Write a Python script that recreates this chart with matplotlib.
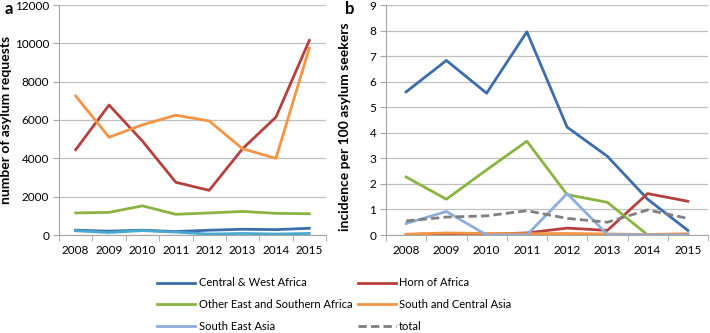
import matplotlib
matplotlib.use("Agg")
import matplotlib.pyplot as plt
from matplotlib.ticker import MultipleLocator, FixedLocator

plt.rcParams['font.family'] = ['Lato', 'DejaVu Sans']

years = ['2008', '2009', '2010', '2011', '2012', '2013', '2014', '2015']

# panel a: number of asylum requests
req_cw_africa = [250, 200, 250, 180, 250, 300, 280, 350]
req_horn = [4450, 6780, 4900, 2750, 2330, 4500, 6150, 10150]
req_other_east = [1150, 1180, 1520, 1080, 1150, 1230, 1130, 1110]
req_sc_asia = [7250, 5100, 5750, 6250, 5950, 4500, 4000, 9750]
req_se_asia = [220, 130, 230, 150, 50, 80, 50, 80]

# panel b: incidence per 100 asylum seekers
inc_cw_africa = [5.6, 6.83, 5.55, 7.95, 4.22, 3.08, 1.4, 0.18]
inc_horn = [0.02, 0.05, 0.03, 0.08, 0.27, 0.18, 1.62, 1.32]
inc_other_east = [2.27, 1.4, 2.55, 3.67, 1.58, 1.28, 0.0, 0.0]
inc_sc_asia = [0.03, 0.08, 0.06, 0.05, 0.06, 0.04, 0.02, 0.05]
inc_se_asia = [0.45, 0.92, 0.0, 0.0, 1.62, 0.02, 0.0, 0.0]
inc_total = [0.55, 0.7, 0.75, 0.95, 0.65, 0.5, 0.98, 0.65]

c_blue = '#3C6DAD'
c_red = '#B6403C'
c_green = '#8CB443'
c_orange = '#F59443'
c_lblue = '#8FAEDB'
c_cyan = '#4AA9CF'
c_grey = '#808080'

x = list(range(len(years)))

fig = plt.figure(figsize=(7.1, 3.33), dpi=100)
ax1 = fig.add_axes([59/710, 1-235/333, 267/710, 230/333])
ax2 = fig.add_axes([386/710, 1-235/333, 322/710, 230/333])


def style(ax):
    ax.set_xlim(-0.5, 7.5)
    ax.xaxis.set_major_locator(FixedLocator(x))
    ax.set_xticklabels(years)
    ax.xaxis.set_minor_locator(FixedLocator([i + 0.5 for i in range(-1, 8)]))
    ax.tick_params(axis='x', which='major', length=0, pad=7, labelsize=8.5)
    ax.tick_params(axis='x', which='minor', length=4, color='#A6A6A6')
    ax.tick_params(axis='y', length=4, color='#A6A6A6', labelsize=8.5, pad=3)
    ax.grid(axis='y', color='#C0C0C0', lw=0.9)
    ax.set_axisbelow(True)
    for s in ['top', 'right']:
        ax.spines[s].set_visible(False)
    for s in ['left', 'bottom']:
        ax.spines[s].set_color('#A6A6A6')


lw = 2
ax1.plot(x, req_cw_africa, color=c_blue, lw=lw)
ax1.plot(x, req_horn, color=c_red, lw=lw)
ax1.plot(x, req_other_east, color=c_green, lw=lw)
ax1.plot(x, req_sc_asia, color=c_orange, lw=lw)
ax1.plot(x, req_se_asia, color=c_cyan, lw=lw)
ax1.set_ylim(0, 12000)
ax1.yaxis.set_major_locator(MultipleLocator(2000))
style(ax1)
ax1.set_ylabel('number of asylum requests', fontsize=10, fontweight='bold', labelpad=2)

l1, = ax2.plot(x, inc_cw_africa, color=c_blue, lw=lw)
l2, = ax2.plot(x, inc_horn, color=c_red, lw=lw)
l3, = ax2.plot(x, inc_other_east, color=c_green, lw=lw)
l4, = ax2.plot(x, inc_sc_asia, color=c_orange, lw=lw)
l5, = ax2.plot(x, inc_se_asia, color=c_lblue, lw=lw)
l6, = ax2.plot(x, inc_total, color=c_grey, lw=lw, ls=(0, (3, 1.5)))
ax2.set_ylim(0, 9)
ax2.yaxis.set_major_locator(MultipleLocator(1))
style(ax2)
ax2.set_ylabel('incidence per 100 asylum seekers', fontsize=10, fontweight='bold', labelpad=8)
ax2.yaxis.set_label_coords(-0.11, 0.47)

fig.text(5/710, 1-9/333, 'a', fontsize=12, fontweight='bold', va='center', ha='left')
fig.text(345/710, 1-9/333, 'b', fontsize=12, fontweight='bold', va='center', ha='left')

# legend fills column by column, so order handles to read row-wise
fig.legend([l1, l3, l5, l2, l4, l6],
           ['Central & West Africa', 'Other East and Southern Africa',
            'South East Asia', 'Horn of Africa',
            'South and Central Asia', 'total'],
           loc='upper left', bbox_to_anchor=(153/710, 1-273/333), ncol=2,
           frameon=False, fontsize=8, handlelength=3.4, handletextpad=0.3,
           columnspacing=0.5, labelspacing=0.95, borderaxespad=0)

fig.savefig('out.png', dpi=100)
